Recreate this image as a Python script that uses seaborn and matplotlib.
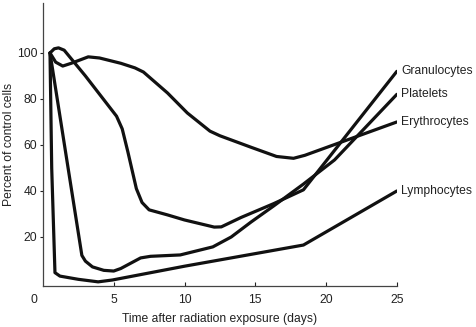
import matplotlib
matplotlib.use("Agg")
import matplotlib.pyplot as plt
import seaborn as sns
import pandas as pd

# Blood cell counts after radiation exposure (percent of control)
gran_day = [0.5, 0.8, 1.1, 1.5, 3.0, 5.2, 5.6, 6.0, 6.3, 6.6, 7.0, 7.5, 8.8, 10.0, 12.1, 12.6, 14.0, 16.3, 18.4, 25.0]
gran_pct = [100, 101.8, 102.2, 101.2, 90, 72.5, 67, 57, 49, 41, 35, 31.8, 29.6, 27.4, 24.3, 24.4, 28.5, 34.5, 40.5, 92]

plt_day = [0.5, 1.7, 2.75, 3.0, 3.5, 4.3, 5.0, 5.5, 6.9, 7.6, 9.7, 12.0, 13.3, 14.7, 16.3, 18.4, 20.6, 25.0]
plt_pct = [100, 53, 12, 9.5, 7, 5.5, 5.2, 6.3, 10.9, 11.6, 12.2, 15.7, 20, 26.5, 33.5, 43, 53.5, 82]

ery_day = [0.5, 0.9, 1.4, 2.0, 3.2, 4.0, 5.5, 6.5, 7.1, 8.8, 10.2, 11.8, 12.5, 14.7, 16.5, 17.7, 18.5, 25.0]
ery_pct = [100, 96, 94.3, 95.5, 98.3, 97.8, 95.5, 93.5, 91.7, 82.6, 73.9, 66, 64, 59, 55, 54.2, 55.5, 70]

lym_day = [0.5, 0.62, 0.85, 1.2, 2.5, 3.9, 4.9, 10.0, 18.4, 25.0]
lym_pct = [100, 50, 4.5, 3.0, 1.6, 0.5, 1.3, 7.3, 16.5, 40]

series = ["Granulocytes", "Platelets", "Erythrocytes", "Lymphocytes"]
x_ticks = [5, 10, 15, 20, 25]
y_ticks = [20, 40, 60, 80, 100]

frames = []
for name, d, p in zip(series, [gran_day, plt_day, ery_day, lym_day],
                      [gran_pct, plt_pct, ery_pct, lym_pct]):
    frames.append(pd.DataFrame({"day": d, "pct": p, "cell": name}))
df = pd.concat(frames, ignore_index=True)

sns.set_style("ticks")
plt.rcParams["font.family"] = ["Liberation Sans", "DejaVu Sans"]

FS = 8.7
TXT = "#222222"

fig = plt.figure(figsize=(4.77, 3.27), dpi=100)
ax = fig.add_axes([0.090, 0.1254, 0.742, 0.8654])

sns.lineplot(data=df, x="day", y="pct", hue="cell", units="cell",
             estimator=None, sort=False, palette=["#111111"] * 4,
             linewidth=2.3, legend=False, ax=ax,
             solid_joinstyle="round", solid_capstyle="round")

ax.set_xlim(0, 25)
ax.set_ylim(-1.3, 121.7)
ax.set_xticks(x_ticks)
ax.set_yticks(y_ticks)
ax.tick_params(axis="x", direction="in", length=3, width=0.8, pad=6,
               labelsize=FS, colors=TXT)
ax.tick_params(axis="y", direction="out", length=2.5, width=0.8, pad=1.5,
               labelsize=FS, colors=TXT)
# origin label sits just left of the corner
ax.annotate("0", xy=(-0.6, 0), xycoords=ax.get_xaxis_transform(),
            xytext=(0, -6), textcoords="offset points",
            ha="center", va="top", fontsize=FS, color=TXT,
            annotation_clip=False)

for side in ["top", "right"]:
    ax.spines[side].set_visible(False)
for side in ["left", "bottom"]:
    ax.spines[side].set_linewidth(0.9)
    ax.spines[side].set_color("#444444")

ax.set_xlabel("Time after radiation exposure (days)", fontsize=FS,
              color=TXT, labelpad=4.5)
ax.set_ylabel("Percent of control cells", fontsize=FS, color=TXT,
              labelpad=1)

for name, d, p in zip(series, [gran_day, plt_day, ery_day, lym_day],
                      [gran_pct, plt_pct, ery_pct, lym_pct]):
    ax.annotate(name, xy=(d[-1], p[-1]), xytext=(3, 0),
                textcoords="offset points", ha="left", va="center",
                fontsize=FS, color=TXT, annotation_clip=False)

fig.savefig("out.png", dpi=100)
